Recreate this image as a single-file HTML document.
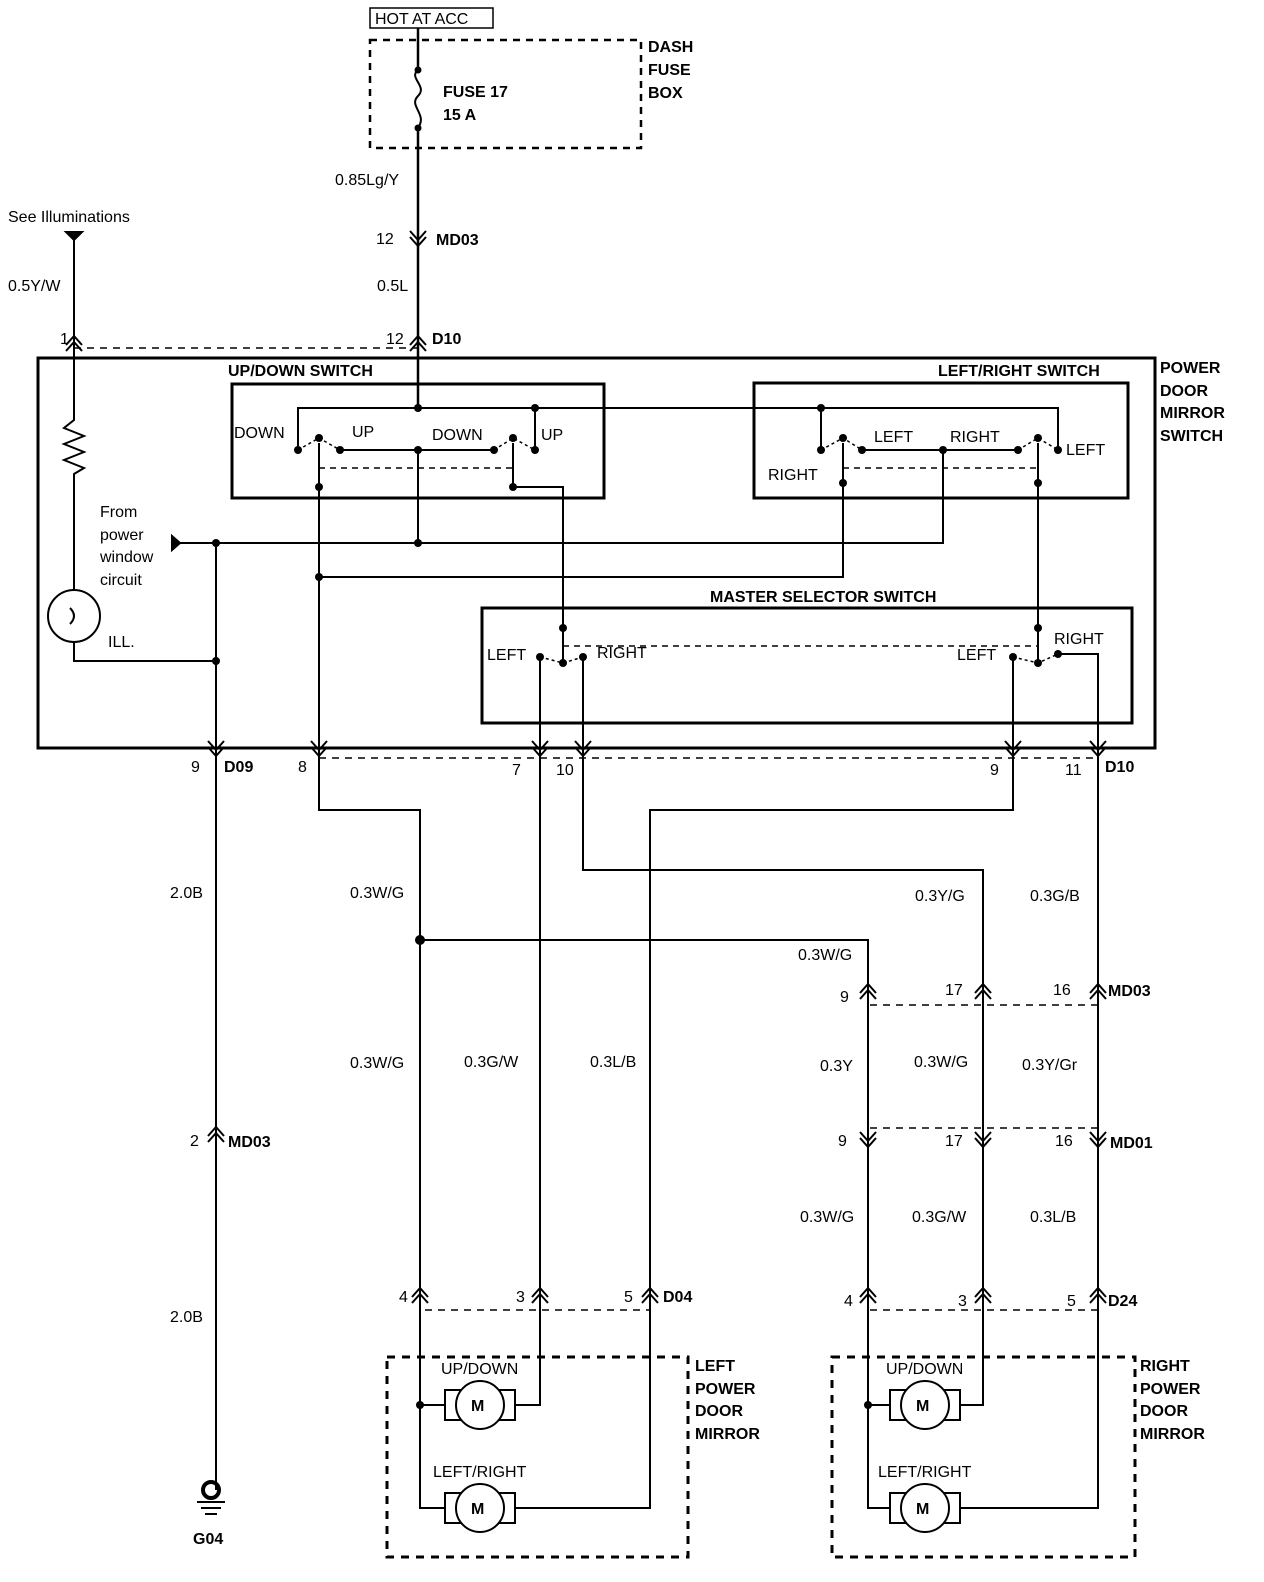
<!DOCTYPE html>
<html><head><meta charset="utf-8"><style>
html,body{margin:0;padding:0;background:#fff}
svg{display:block}
text{font-family:"Liberation Sans",Arial,sans-serif;font-size:16px;fill:#000}
.b{font-weight:bold}
</style></head><body>
<svg width="1264" height="1582" viewBox="0 0 1264 1582" xmlns="http://www.w3.org/2000/svg">
<defs>
<g id="cu" fill="none" stroke="#000" stroke-width="2"><path d="M-8,9 L0,0 L8,9 M-8,15 L0,6 L8,15"/></g>
<g id="cd" fill="none" stroke="#000" stroke-width="2"><path d="M-8,-9 L0,0 L8,-9 M-8,-15 L0,-6 L8,-15"/></g>
</defs>
<g fill="none" stroke="#000" stroke-width="2">
<rect x="370" y="8" width="123" height="20" stroke-width="1.5"/>
<rect x="370" y="40" width="271" height="108" stroke-dasharray="7,6" stroke-width="2.5"/>
<path d="M418,28 V70 M418,128 V408" stroke-width="2.5"/>
<path d="M418,70 C408,78 428,86 418,96 C408,106 428,114 418,128"/>
<path d="M74,232 V420 L64,428 L84,436 L64,444 L84,452 L64,460 L84,468 L74,474 V590 M74,642 V661 H216"/>
<circle cx="74" cy="616" r="26"/>
<path d="M70,608 q8,8 0,16"/>
<path d="M74,348 H418" stroke-dasharray="7,6" stroke-width="1.5"/>
<rect x="38" y="358" width="1117" height="390" stroke-width="3"/>
<rect x="232" y="384" width="372" height="114" stroke-width="3"/>
<rect x="754" y="383" width="374" height="115" stroke-width="3"/>
<rect x="482" y="608" width="650" height="115" stroke-width="3"/>
<path d="M298,450 V408 H1058 V450 M535,408 V450 M821,408 V450"/>
<path d="M340,450 H494 M418,450 V543 M862,450 H1018 M943,450 V543 H172"/>
<path d="M319,443 V750 M513,443 V487 H563 V663 M843,443 V577 H319 M1038,443 V663"/>
<path d="M319,468 H513 M843,468 H1038 M563,646 H1038" stroke-dasharray="6,5" stroke-width="1.5"/>
<path d="M298,450 L319,438 L340,450 M494,450 L513,438 L535,450 M821,450 L843,438 L862,450 M1018,450 L1038,438 L1058,450" stroke-dasharray="3,3" stroke-width="1.5"/>
<path d="M540,657 L563,663 L583,657 M1013,657 L1038,663 L1058,654" stroke-dasharray="3,3" stroke-width="1.5"/>
<path d="M540,657 V750 M583,657 V750 M1013,657 V750 M1058,654 H1098 V750"/>
<path d="M216,543 V1490"/>
<path d="M172,536 L180,543 L172,550 Z" fill="#000"/>
<path d="M66,232 H82 L74,240 Z" fill="#000"/>
<path d="M319,758 H1098" stroke-dasharray="7,6" stroke-width="1.5"/>
<!-- lower wiring -->
<path d="M319,750 V810 H420 V1508 H445"/>
<path d="M420,940 H868 V1508 H890"/>
<path d="M540,750 V1405 H515"/>
<path d="M583,750 V870 H983 V1405 H960"/>
<path d="M1013,750 V810 H650 V1508 H515"/>
<path d="M1098,750 V1508 H960"/>
<path d="M420,1405 H445 M868,1405 H890"/>
<path d="M870,1005 H1098 M870,1128 H1098 M425,1310 H650 M870,1310 H1098" stroke-dasharray="7,6" stroke-width="1.5"/>
<rect x="387" y="1357" width="301" height="200" stroke-dasharray="8,7" stroke-width="3"/>
<rect x="832" y="1357" width="303" height="200" stroke-dasharray="8,7" stroke-width="3"/>
<rect x="445" y="1390" width="70" height="30"/><circle cx="480" cy="1405" r="24" fill="#fff"/>
<rect x="445" y="1493" width="70" height="30"/><circle cx="480" cy="1508" r="24" fill="#fff"/>
<rect x="890" y="1390" width="70" height="30"/><circle cx="925" cy="1405" r="24" fill="#fff"/>
<rect x="890" y="1493" width="70" height="30"/><circle cx="925" cy="1508" r="24" fill="#fff"/>
<circle cx="211" cy="1490" r="8" stroke-width="4"/>
<path d="M197,1502 H225 M201,1508 H221 M205,1514 H217"/>
</g>
<g fill="#000">
<circle cx="418" cy="70" r="3.5"/><circle cx="418" cy="128" r="3.5"/>
<circle cx="418" cy="408" r="4"/><circle cx="535" cy="408" r="4"/><circle cx="821" cy="408" r="4"/>
<circle cx="298" cy="450" r="4"/><circle cx="319" cy="438" r="4"/><circle cx="340" cy="450" r="4"/><circle cx="418" cy="450" r="4"/><circle cx="494" cy="450" r="4"/><circle cx="513" cy="438" r="4"/><circle cx="535" cy="450" r="4"/>
<circle cx="821" cy="450" r="4"/><circle cx="843" cy="438" r="4"/><circle cx="862" cy="450" r="4"/><circle cx="943" cy="450" r="4"/><circle cx="1018" cy="450" r="4"/><circle cx="1038" cy="438" r="4"/><circle cx="1058" cy="450" r="4"/>
<circle cx="319" cy="487" r="4"/><circle cx="513" cy="487" r="4"/><circle cx="843" cy="483" r="4"/><circle cx="1038" cy="483" r="4"/>
<circle cx="418" cy="543" r="4"/><circle cx="216" cy="543" r="4"/><circle cx="216" cy="661" r="4"/><circle cx="319" cy="577" r="4"/>
<circle cx="563" cy="628" r="4"/><circle cx="1038" cy="628" r="4"/><circle cx="540" cy="657" r="4"/><circle cx="563" cy="663" r="4"/><circle cx="583" cy="657" r="4"/><circle cx="1013" cy="657" r="4"/><circle cx="1038" cy="663" r="4"/><circle cx="1058" cy="654" r="4"/>
<circle cx="420" cy="940" r="5"/><circle cx="420" cy="1405" r="4"/><circle cx="868" cy="1405" r="4"/>
</g>
<use href="#cd" x="418" y="246"/>
<use href="#cu" x="74" y="336"/><use href="#cu" x="418" y="336"/>
<use href="#cu" x="216" y="1127"/>
<use href="#cd" x="216" y="756"/><use href="#cd" x="319" y="756"/><use href="#cd" x="540" y="756"/><use href="#cd" x="583" y="756"/><use href="#cd" x="1013" y="756"/><use href="#cd" x="1098" y="756"/>
<use href="#cu" x="868" y="984"/><use href="#cu" x="983" y="984"/><use href="#cu" x="1098" y="984"/>
<use href="#cd" x="868" y="1147"/><use href="#cd" x="983" y="1147"/><use href="#cd" x="1098" y="1147"/>
<use href="#cu" x="420" y="1288"/><use href="#cu" x="540" y="1288"/><use href="#cu" x="650" y="1288"/>
<use href="#cu" x="868" y="1288"/><use href="#cu" x="983" y="1288"/><use href="#cu" x="1098" y="1288"/>
<text x="375" y="24">HOT AT ACC</text>
<text class="b" x="648" y="52">DASH</text><text class="b" x="648" y="75">FUSE</text><text class="b" x="648" y="98">BOX</text>
<text class="b" x="443" y="97">FUSE 17</text><text class="b" x="443" y="120">15 A</text>
<text x="335" y="185">0.85Lg/Y</text>
<text x="8" y="222">See Illuminations</text>
<text x="376" y="244">12</text><text class="b" x="436" y="245">MD03</text>
<text x="8" y="291">0.5Y/W</text><text x="377" y="291">0.5L</text>
<text x="60" y="344">1</text><text x="386" y="344">12</text><text class="b" x="432" y="344">D10</text>
<text class="b" x="1160" y="373">POWER</text><text class="b" x="1160" y="396">DOOR</text><text class="b" x="1160" y="418">MIRROR</text><text class="b" x="1160" y="441">SWITCH</text>
<text class="b" x="228" y="376">UP/DOWN SWITCH</text>
<text class="b" x="938" y="376">LEFT/RIGHT SWITCH</text>
<text x="234" y="438">DOWN</text><text x="352" y="437">UP</text><text x="432" y="440">DOWN</text><text x="541" y="440">UP</text>
<text x="874" y="442">LEFT</text><text x="950" y="442">RIGHT</text><text x="1066" y="455">LEFT</text><text x="768" y="480">RIGHT</text>
<text x="100" y="517">From</text><text x="100" y="540">power</text><text x="100" y="562">window</text><text x="100" y="585">circuit</text>
<text x="108" y="647">ILL.</text>
<text class="b" x="710" y="602">MASTER SELECTOR SWITCH</text>
<text x="487" y="660">LEFT</text><text x="597" y="658">RIGHT</text><text x="957" y="660">LEFT</text><text x="1054" y="644">RIGHT</text>
<text x="191" y="772">9</text><text class="b" x="224" y="772">D09</text><text x="298" y="772">8</text><text x="512" y="775">7</text><text x="556" y="775">10</text><text x="990" y="775">9</text><text x="1065" y="775">11</text><text class="b" x="1105" y="772">D10</text>
<text x="170" y="898">2.0B</text><text x="350" y="898">0.3W/G</text><text x="915" y="901">0.3Y/G</text><text x="1030" y="901">0.3G/B</text>
<text x="798" y="960">0.3W/G</text>
<text x="840" y="1002">9</text><text x="945" y="995">17</text><text x="1053" y="995">16</text><text class="b" x="1108" y="996">MD03</text>
<text x="350" y="1068">0.3W/G</text><text x="464" y="1067">0.3G/W</text><text x="590" y="1067">0.3L/B</text>
<text x="820" y="1071">0.3Y</text><text x="914" y="1067">0.3W/G</text><text x="1022" y="1070">0.3Y/Gr</text>
<text x="190" y="1146">2</text><text class="b" x="228" y="1147">MD03</text>
<text x="838" y="1146">9</text><text x="945" y="1146">17</text><text x="1055" y="1146">16</text><text class="b" x="1110" y="1148">MD01</text>
<text x="800" y="1222">0.3W/G</text><text x="912" y="1222">0.3G/W</text><text x="1030" y="1222">0.3L/B</text>
<text x="170" y="1322">2.0B</text>
<text x="399" y="1302">4</text><text x="516" y="1302">3</text><text x="624" y="1302">5</text><text class="b" x="663" y="1302">D04</text>
<text x="844" y="1306">4</text><text x="958" y="1306">3</text><text x="1067" y="1306">5</text><text class="b" x="1108" y="1306">D24</text>
<text x="441" y="1374">UP/DOWN</text><text x="433" y="1477">LEFT/RIGHT</text>
<text x="886" y="1374">UP/DOWN</text><text x="878" y="1477">LEFT/RIGHT</text>
<text class="b" x="471" y="1411">M</text><text class="b" x="471" y="1514">M</text><text class="b" x="916" y="1411">M</text><text class="b" x="916" y="1514">M</text>
<text class="b" x="695" y="1371">LEFT</text><text class="b" x="695" y="1394">POWER</text><text class="b" x="695" y="1416">DOOR</text><text class="b" x="695" y="1439">MIRROR</text>
<text class="b" x="1140" y="1371">RIGHT</text><text class="b" x="1140" y="1394">POWER</text><text class="b" x="1140" y="1416">DOOR</text><text class="b" x="1140" y="1439">MIRROR</text>
<text class="b" x="193" y="1544">G04</text>
</svg>
</body></html>
